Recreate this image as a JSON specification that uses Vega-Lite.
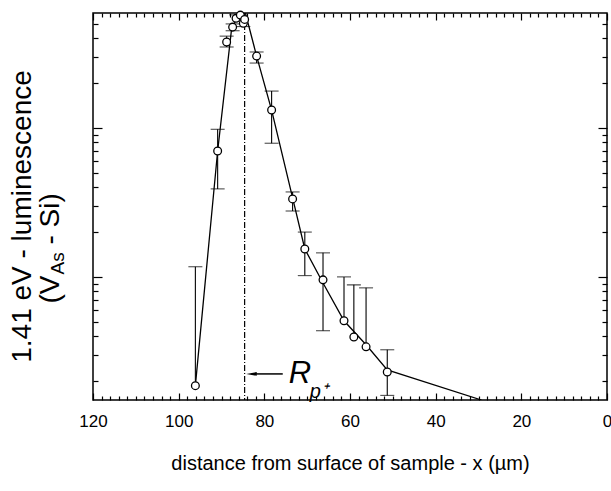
{
  "$schema": "https://vega.github.io/schema/vega-lite/v6.json",
  "width": 514,
  "height": 387,
  "autosize": {"type": "none"},
  "padding": {"left": 93, "top": 13, "right": 4, "bottom": 91},
  "background": "white",
  "config": {
    "view": {"stroke": "black", "strokeWidth": 1.5},
    "font": "Liberation Sans",
    "axis": {
      "domain": false,
      "grid": false,
      "tickColor": "black",
      "tickWidth": 1.2,
      "labelColor": "black",
      "titleColor": "black",
      "labelFont": "Liberation Sans",
      "titleFont": "Liberation Sans",
      "labelFontSize": 17,
      "titleFontSize": 20,
      "titleFontWeight": "normal"
    }
  },
  "datasets": {
    "pts": [
      {"x": 96.1, "y": 1.86, "hi": 11.7, "lo": null},
      {"x": 90.9, "y": 70, "hi": 98, "lo": 39},
      {"x": 88.8, "y": 378, "hi": 414, "lo": 350},
      {"x": 87.4, "y": 476, "hi": 500, "lo": 450},
      {"x": 86.6, "y": 545, "hi": 575, "lo": null},
      {"x": 85.6, "y": 573, "hi": null, "lo": null},
      {"x": 84.9, "y": 505, "hi": null, "lo": 480},
      {"x": 84.6, "y": 536, "hi": null, "lo": null},
      {"x": 81.8, "y": 304, "hi": 324, "lo": 273},
      {"x": 78.3, "y": 132, "hi": 177, "lo": 79},
      {"x": 73.4, "y": 33.4, "hi": 37.2, "lo": 27.7},
      {"x": 70.55, "y": 15.4, "hi": 20.0, "lo": 10.2},
      {"x": 66.3, "y": 9.55, "hi": 14.5, "lo": 4.35},
      {"x": 61.4, "y": 5.07, "hi": 10.0, "lo": null},
      {"x": 59.1, "y": 3.95, "hi": 8.84, "lo": null},
      {"x": 56.25, "y": 3.39, "hi": 8.44, "lo": null},
      {"x": 51.3, "y": 2.3, "hi": 3.24, "lo": 1.6}
    ],
    "fit": [
      {"x": 96.1, "y": 1.86},
      {"x": 90.9, "y": 70},
      {"x": 87.6, "y": 476},
      {"x": 85.5, "y": 590},
      {"x": 84.4, "y": 590},
      {"x": 81.8, "y": 304},
      {"x": 78.3, "y": 132},
      {"x": 73.4, "y": 33.9},
      {"x": 70.55, "y": 15.4},
      {"x": 66.3, "y": 9.1},
      {"x": 61.4, "y": 5.07},
      {"x": 56.25, "y": 3.5},
      {"x": 51.3, "y": 2.37},
      {"x": 29.3, "y": 1.49}
    ],
    "rp": [{"x": 84.6}],
    "arrow": [{"x": 75.7, "x2": 83.0, "y": 2.23}],
    "labR": [{"x": 71.7, "y": 2.23, "t": "R"}],
    "labP": [{"x": 67.3, "y": 1.69, "t": "p⁺"}]
  },
  "resolve": {"axis": {"x": "independent", "y": "independent"}},
  "layer": [
    {
      "data": {"name": "rp"},
      "mark": {"type": "rule", "color": "black", "strokeWidth": 1.2, "strokeDash": [6, 2, 1, 2]},
      "encoding": {
        "x": {"field": "x", "type": "quantitative", "scale": {"domain": [0, 120], "reverse": true, "nice": false, "zero": false}, "axis": null}
      }
    },
    {
      "data": {"name": "fit"},
      "mark": {"type": "line", "color": "black", "strokeWidth": 1.3, "clip": true},
      "encoding": {
        "x": {"field": "x", "type": "quantitative", "scale": {"domain": [0, 120], "reverse": true, "nice": false, "zero": false},
          "axis": {"orient": "bottom", "values": [0, 20, 40, 60, 80, 100, 120], "tickSize": -7, "labelPadding": 20, "labelFlush": false, "title": "distance from surface of sample - x (µm)", "titlePadding": 24}},
        "y": {"field": "y", "type": "quantitative", "scale": {"type": "log", "domain": [1.49, 592], "nice": false},
          "axis": {"orient": "left", "values": [10, 100], "tickSize": -9, "labels": false, "title": "1.41 eV - luminescence", "titleFontSize": 28, "titleAngle": -90, "titleX": -71, "titleY": 203, "titleAlign": "center", "titleBaseline": "middle"}}
      }
    },
    {
      "data": {"name": "pts"},
      "transform": [{"filter": "isValid(datum.hi)"}],
      "mark": {"type": "rule", "color": "black", "strokeWidth": 1.1},
      "encoding": {
        "x": {"field": "x", "type": "quantitative", "scale": {"domain": [0, 120], "reverse": true, "nice": false, "zero": false},
          "axis": {"orient": "bottom", "values": [2,4,6,8,10,12,14,16,18,22,24,26,28,30,32,34,36,38,42,44,46,48,50,52,54,56,58,62,64,66,68,70,72,74,76,78,82,84,86,88,90,92,94,96,98,102,104,106,108,110,112,114,116,118], "tickSize": -4, "labels": false, "title": null}},
        "y": {"field": "y", "type": "quantitative", "scale": {"type": "log", "domain": [1.49, 592], "nice": false},
          "axis": {"orient": "left", "values": [2,3,4,5,6,7,8,9,20,30,40,50,60,70,80,90,200,300,400,500], "tickSize": -5, "labels": false, "title": "(V", "titleFontSize": 28, "titleAngle": -90, "titleX": -43, "titleY": 290, "titleAlign": "left", "titleBaseline": "middle"}},
        "y2": {"field": "hi"}
      }
    },
    {
      "data": {"name": "pts"},
      "transform": [{"filter": "isValid(datum.lo)"}],
      "mark": {"type": "rule", "color": "black", "strokeWidth": 1.1},
      "encoding": {
        "x": {"field": "x", "type": "quantitative", "scale": {"domain": [0, 120], "reverse": true, "nice": false, "zero": false},
          "axis": {"orient": "top", "values": [0, 20, 40, 60, 80, 100, 120], "tickSize": -7, "labels": false, "title": null}},
        "y": {"field": "lo", "type": "quantitative", "scale": {"type": "log", "domain": [1.49, 592], "nice": false},
          "axis": {"orient": "right", "values": [10, 100], "tickSize": -9, "labels": false, "title": null}},
        "y2": {"field": "y"}
      }
    },
    {
      "data": {"name": "pts"},
      "transform": [
        {"fold": ["hi", "lo"], "as": ["end", "v"]},
        {"filter": "isValid(datum.v)"}
      ],
      "mark": {"type": "tick", "orient": "horizontal", "color": "black", "thickness": 1.1, "size": 14},
      "encoding": {
        "x": {"field": "x", "type": "quantitative", "scale": {"domain": [0, 120], "reverse": true, "nice": false, "zero": false},
          "axis": {"orient": "top", "values": [2,4,6,8,10,12,14,16,18,22,24,26,28,30,32,34,36,38,42,44,46,48,50,52,54,56,58,62,64,66,68,70,72,74,76,78,82,84,86,88,90,92,94,96,98,102,104,106,108,110,112,114,116,118], "tickSize": -4, "labels": false, "title": null}},
        "y": {"field": "v", "type": "quantitative", "scale": {"type": "log", "domain": [1.49, 592], "nice": false},
          "axis": {"orient": "right", "values": [2,3,4,5,6,7,8,9,20,30,40,50,60,70,80,90,200,300,400,500], "tickSize": -5, "labels": false, "title": null}}
      }
    },
    {
      "data": {"name": "pts"},
      "mark": {"type": "point", "shape": "circle", "filled": true, "fill": "white", "stroke": "black", "strokeWidth": 1.3, "size": 60, "opacity": 1},
      "encoding": {
        "x": {"field": "x", "type": "quantitative", "scale": {"domain": [0, 120], "reverse": true, "nice": false, "zero": false}, "axis": null},
        "y": {"field": "y", "type": "quantitative", "scale": {"type": "log", "domain": [1.49, 592], "nice": false},
          "axis": {"orient": "left", "values": [], "ticks": false, "labels": false, "title": "As", "titleFontSize": 19, "titleAngle": -90, "titleX": -36, "titleY": 261, "titleAlign": "left", "titleBaseline": "middle"}}
      }
    },
    {
      "data": {"name": "arrow"},
      "mark": {"type": "rule", "color": "black", "strokeWidth": 1.5},
      "encoding": {
        "x": {"field": "x", "type": "quantitative", "scale": {"domain": [0, 120], "reverse": true, "nice": false, "zero": false}, "axis": null},
        "x2": {"field": "x2"},
        "y": {"field": "y", "type": "quantitative", "scale": {"type": "log", "domain": [1.49, 592], "nice": false},
          "axis": {"orient": "left", "values": [], "ticks": false, "labels": false, "title": "- Si)", "titleFontSize": 28, "titleAngle": -90, "titleX": -43, "titleY": 231, "titleAlign": "left", "titleBaseline": "middle"}}
      }
    },
    {
      "data": {"name": "arrow"},
      "mark": {"type": "point", "shape": "M-1,0L1,-0.35L1,0.35Z", "filled": true, "color": "black", "size": 110, "opacity": 1},
      "encoding": {
        "x": {"field": "x2", "type": "quantitative", "scale": {"domain": [0, 120], "reverse": true, "nice": false, "zero": false}, "axis": null},
        "y": {"field": "y", "type": "quantitative", "scale": {"type": "log", "domain": [1.49, 592], "nice": false}, "axis": null}
      }
    },
    {
      "data": {"name": "labR"},
      "mark": {"type": "text", "font": "Liberation Sans", "fontStyle": "italic", "fontSize": 31, "color": "black", "align": "center", "baseline": "middle"},
      "encoding": {
        "x": {"field": "x", "type": "quantitative", "scale": {"domain": [0, 120], "reverse": true, "nice": false, "zero": false}, "axis": null},
        "y": {"field": "y", "type": "quantitative", "scale": {"type": "log", "domain": [1.49, 592], "nice": false}, "axis": null},
        "text": {"field": "t"}
      }
    },
    {
      "data": {"name": "labP"},
      "mark": {"type": "text", "font": "Liberation Sans", "fontStyle": "italic", "fontSize": 20, "color": "black", "align": "center", "baseline": "middle"},
      "encoding": {
        "x": {"field": "x", "type": "quantitative", "scale": {"domain": [0, 120], "reverse": true, "nice": false, "zero": false}, "axis": null},
        "y": {"field": "y", "type": "quantitative", "scale": {"type": "log", "domain": [1.49, 592], "nice": false}, "axis": null},
        "text": {"field": "t"}
      }
    }
  ]
}
